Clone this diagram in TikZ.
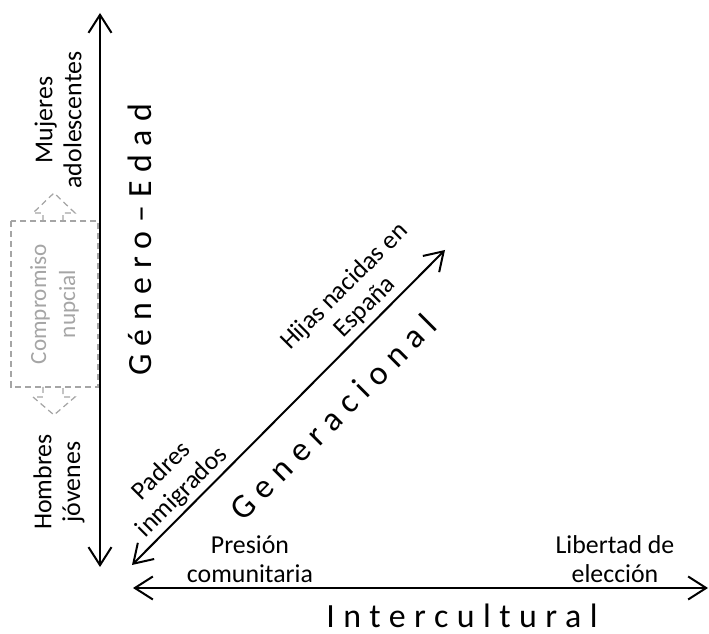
\documentclass[tikz,border=0pt]{standalone}
\usepackage{fontspec}
\setmainfont{Carlito}
\newfontfamily\axisfont{Carlito}[LetterSpace=25]
\usetikzlibrary{arrows.meta}
\definecolor{nupgray}{RGB}{165,165,165}

\tikzset{
	axis/.style={line width=0.4mm, {Straight Barb[length=0.36cm,width=0.46cm]}-{Straight Barb[length=0.36cm,width=0.46cm]}},
	lbl/.style={font=\fontsize{14.7}{16.5}\selectfont, align=center, inner sep=0pt},
	title/.style={font=\axisfont\fontsize{19.3}{21}\selectfont, inner sep=0pt},
	nup/.style={draw=nupgray, dashed, dash pattern=on 3.4pt off 2.3pt, line width=0.25mm}
}

\begin{document}
\begin{tikzpicture}[x=0.02cm, y=0.02cm]
	\useasboundingbox (0,0) rectangle (709,634);
	
	% the three axes
	\coordinate (edtop) at (100,621);
	\coordinate (edbot) at (100,67);
	\coordinate (inleft) at (133,46);
	\coordinate (inright) at (708,46);
	\coordinate (genlow) at (132,69);
	\coordinate (genhigh) at (445,384);
	\draw[axis] (edbot) -- (edtop);
	\draw[axis] (inleft) -- (inright);
	\draw[axis] (genlow) -- (genhigh);
	
	% nuptial commitment box, with its two dashed heads
	\node[nup, rotate=90, minimum width=3.32cm, minimum height=1.74cm, text=nupgray,
		font=\fontsize{13.2}{16.5}\selectfont, align=center] (nupbox) at (54.5,330) {Compromiso\\nupcial};
	\draw[nup] (43,413) -- (43,421) -- (33,421) -- (54,441) -- (75,421) -- (63,421) -- (63,413);
	\draw[nup] (43,247) -- (43,237) -- (33,237) -- (54,219) -- (75,237) -- (63,237) -- (63,247);
	
	% labels at the ends
	\node[lbl, rotate=90] (mujeres) at (58,514) {Mujeres\\adolescentes};
	\node[lbl, rotate=90] (hombres) at (59,152) {Hombres\\jóvenes};
	\node[lbl, rotate=45] (hijas) at (355,337) {Hijas nacidas en\\España};
	\node[lbl, rotate=45] (padres) at (172,152) {Padres\\inmigrados};
	\node[lbl] (presion) at (250,75) {Presión\\comunitaria};
	\node[lbl] (libertad) at (615,75) {Libertad de\\elección};
	
	% axis titles
	\node[title, rotate=90, anchor=base] (genero) at (151,394) {Género–Edad};
	\node[title, rotate=45] (generacional) at (333,217) {Generacional};
	\node[title, anchor=base] (intercultural) at (462,6) {Intercultural};
\end{tikzpicture}
\end{document}
